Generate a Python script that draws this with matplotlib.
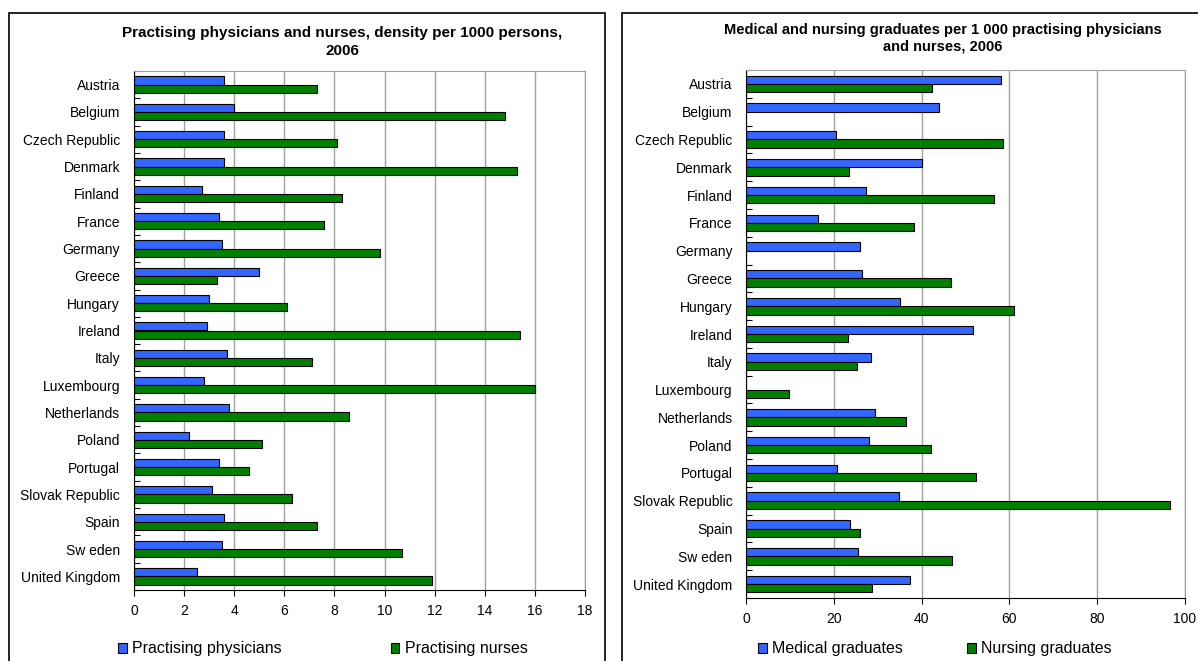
import numpy as np
import matplotlib.pyplot as plt
from matplotlib.patches import Rectangle

plt.rcParams['font.family'] = ['Liberation Sans', 'DejaVu Sans']

#%%------------------------ DATA ----------------------------------------------

countries = ['Austria', 'Belgium', 'Czech Republic', 'Denmark', 'Finland', 'France',
             'Germany', 'Greece', 'Hungary', 'Ireland', 'Italy', 'Luxembourg',
             'Netherlands', 'Poland', 'Portugal', 'Slovak Republic', 'Spain',
             'Sw eden', 'United Kingdom']

physicians = [3.6, 4.0, 3.6, 3.6, 2.7, 3.4, 3.5, 5.0, 3.0, 2.9,
              3.7, 2.8, 3.8, 2.2, 3.4, 3.1, 3.6, 3.5, 2.5]
nurses = [7.3, 14.8, 8.1, 15.3, 8.3, 7.6, 9.8, 3.3, 6.1, 15.4,
          7.1, 16.0, 8.6, 5.1, 4.6, 6.3, 7.3, 10.7, 11.9]

medical_grads = [58.2, 44.0, 20.5, 40.1, 27.3, 16.3, 25.8, 26.4, 35.0, 51.7,
                 28.5, np.nan, 29.4, 27.9, 20.7, 34.8, 23.7, 25.5, 37.4]
nursing_grads = [42.4, np.nan, 58.5, 23.5, 56.4, 38.3, np.nan, 46.6, 61.1, 23.2,
                 25.3, 9.8, 36.5, 42.2, 52.5, 96.8, 26.0, 47.0, 28.7]

left_title = 'Practising physicians and nurses, density per 1000 persons,\n2006'
right_title = 'Medical and nursing graduates per 1 000 practising physicians\nand nurses, 2006'

blue = '#3366FF'
green = '#007F00'

#-----------------------------------------------------------------------------

W, H = 1198, 661
fig = plt.figure(figsize=(W / 100, H / 100), dpi=100)

def px_axes(x0, x1, y0, y1):
    return fig.add_axes([x0 / W, 1 - y1 / H, (x1 - x0) / W, (y1 - y0) / H])

def draw_panel(ax, s1, s2, xmax, xstep, labels):
    y = np.arange(len(countries))
    ax.barh(y - 0.15, s1, height=0.3, color=blue, edgecolor='black', linewidth=0.8, label=labels[0])
    ax.barh(y + 0.15, s2, height=0.3, color=green, edgecolor='black', linewidth=0.8, label=labels[1])
    ax.set_ylim(len(countries) - 0.5, -0.5)
    ax.set_xlim(0, xmax)
    ax.set_xticks(np.arange(0, xmax + 1, xstep))
    ax.set_yticks(y)
    ax.set_yticklabels(countries)
    ax.set_yticks(np.arange(len(countries) + 1) - 0.5, minor=True)
    ax.tick_params(axis='y', which='major', length=0, pad=10, labelsize=10)
    ax.tick_params(axis='y', which='minor', direction='in', length=4, width=0.8)
    ax.tick_params(axis='x', direction='out', length=4, labelsize=10, pad=6)
    ax.grid(axis='x', color='#A0A0A0', linewidth=1)
    ax.set_axisbelow(True)
    ax.spines['left'].set_color('black')
    ax.spines['bottom'].set_color('black')
    ax.spines['top'].set_color('#A0A0A0')
    ax.spines['right'].set_color('#A0A0A0')

ax1 = px_axes(134, 585, 71, 590)
draw_panel(ax1, physicians, nurses, 18, 2, ['Practising physicians', 'Practising nurses'])
ax1.legend(loc='center left', bbox_to_anchor=(111.5 / W, 1 - 649 / H), bbox_transform=fig.transFigure,
           ncol=2, frameon=False, fontsize=11.5, handlelength=0.55, handleheight=0.55,
           handletextpad=0.35, columnspacing=6.8, borderaxespad=0)
fig.text(342 / W, 1 - 42 / H, left_title, ha='center', va='center', fontsize=11,
         fontweight='bold', linespacing=1.45)

ax2 = px_axes(746.5, 1184.5, 70, 598)
draw_panel(ax2, medical_grads, nursing_grads, 100, 20, ['Medical graduates', 'Nursing graduates'])
ax2.legend(loc='center left', bbox_to_anchor=(751.5 / W, 1 - 649 / H), bbox_transform=fig.transFigure,
           ncol=2, frameon=False, fontsize=11.5, handlelength=0.55, handleheight=0.55,
           handletextpad=0.35, columnspacing=4.0, borderaxespad=0)
fig.text(943 / W, 1 - 38 / H, right_title, ha='center', va='center', fontsize=10.5,
         fontweight='bold', linespacing=1.25)

# outer frames around each chart
fig.patches.append(Rectangle((9 / W, -0.1), (605 - 9) / W, 1.1 - 13 / H, fill=False,
                             edgecolor='black', linewidth=1.2, transform=fig.transFigure))
fig.patches.append(Rectangle((622 / W, -0.1), 0.6, 1.1 - 13 / H, fill=False,
                             edgecolor='black', linewidth=1.2, transform=fig.transFigure))

fig.savefig('out.png', dpi=100)
